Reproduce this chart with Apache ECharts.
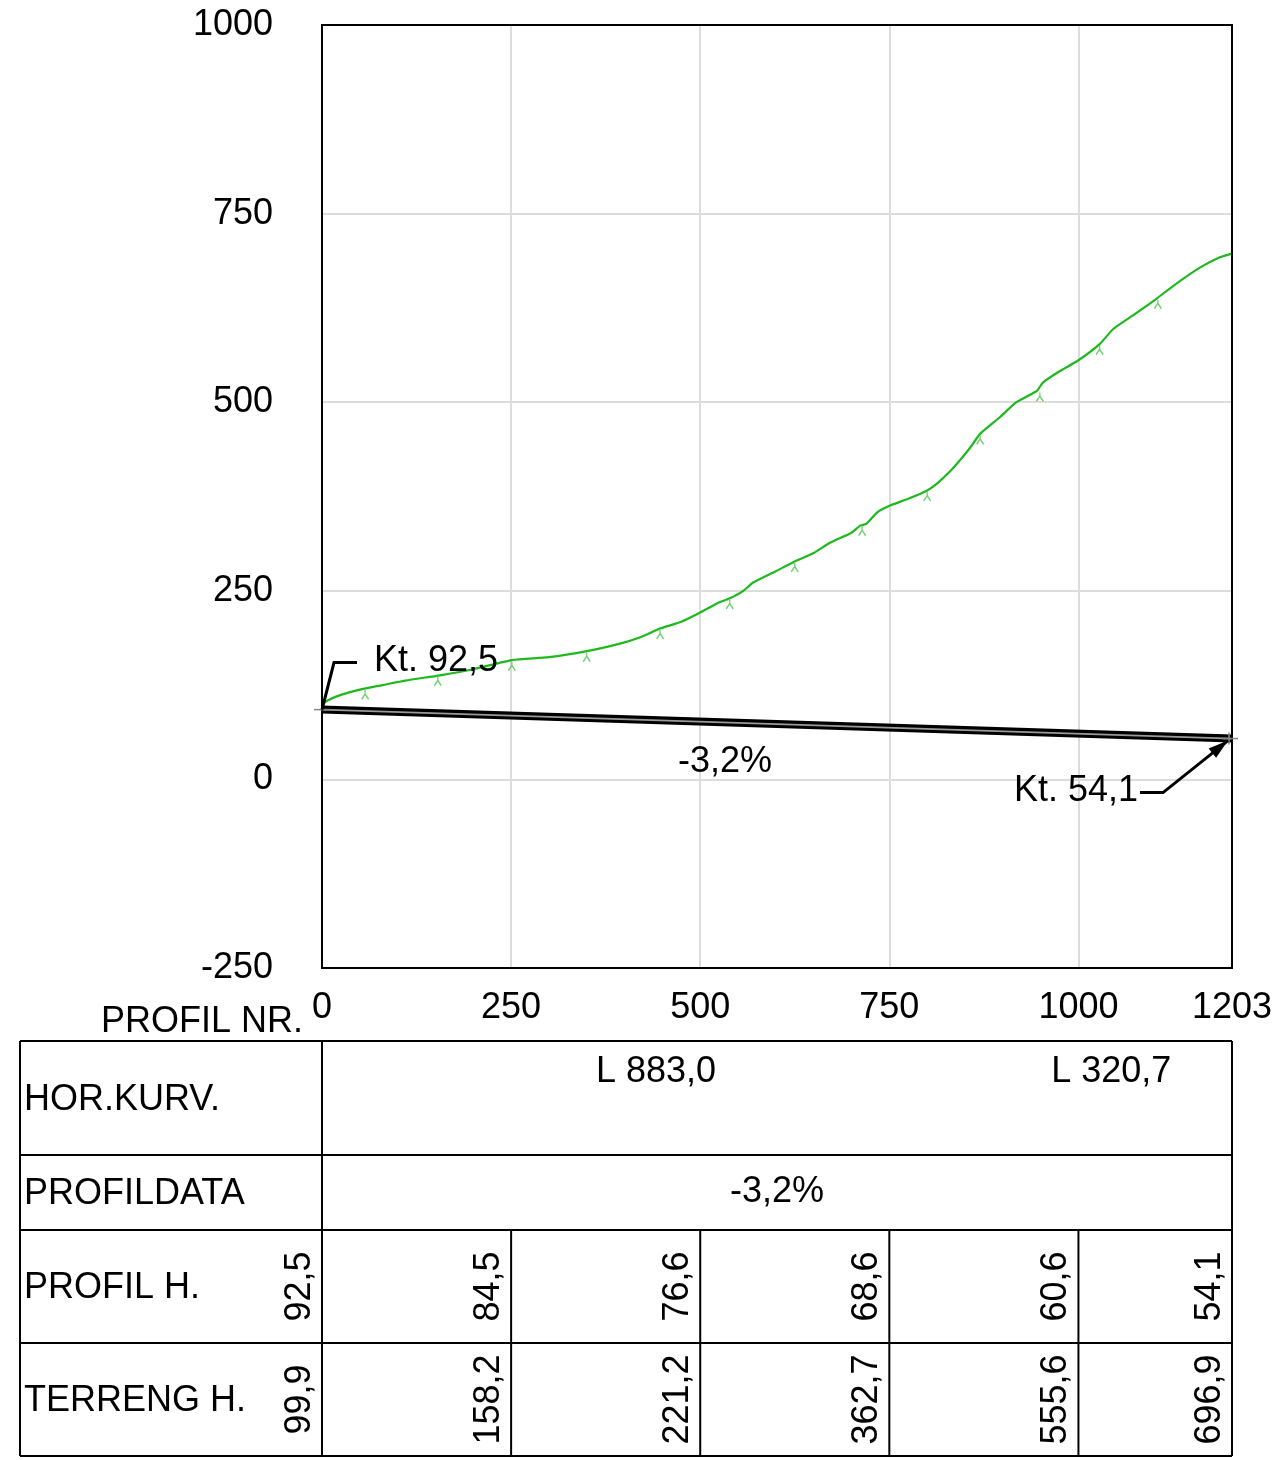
<!DOCTYPE html>
<html><head><meta charset="utf-8">
<script src="https://cdn.jsdelivr.net/npm/echarts@6/dist/echarts.min.js"></script>
<style>html,body{margin:0;padding:0;background:#fff}#c{width:1274px;height:1460px}</style>
</head><body><div id="c"></div>
<script>
// ---- data ----
const terrainX = [0,10,25,50,80,110,156,200,251,300,350,394,420,447,475,500,526,539,557,570,600,623,650,672,700,711,720,734,751,775,800,813,830,845,857,870,896,918,945,953,975,1000,1028,1046,1072,1103,1125,1160,1187,1203];
const terrainY = [99.9,106,112,119,125,131,138,146,158.2,162,170,180,188,200,209,221.2,235,240,250,261,276,288,300,314,327,336,339,354,363,372,383,392,408,425,440,458,480,500,515,526,541,555.6,577,597,615,637,654,678,692,696.9];
const markX = [57,153,251,350,447,539,625,714,800,870,949,1028,1105];
const markY = [120,138,158,170,200,240,289,337,383,458,515,577,638];
const profileX = [0,1203];
const profileY = [92.5,54.1];
const stations = [0,250,500,750,1000,1203];
const profilH = [92.5,84.5,76.6,68.6,60.6,54.1];
const terrengH = [99.9,158.2,221.2,362.7,555.6,696.9];
const curveStart = [0,883.0];
const curveLength = [883.0,320.7];
const gradePct = -3.2;
const rowLabels = ['HOR.KURV.','PROFILDATA','PROFIL H.','TERRENG H.'];

const fmt = v => v.toFixed(1).replace('.', ',');
const FONT = 'Liberation Sans, Arial, sans-serif';
const FS = 36;

const chart = echarts.init(document.getElementById('c'), null, {renderer:'canvas'});
chart.setOption({
  animation:false,
  backgroundColor:'#fff',
  grid:{left:322, top:25, width:910, height:943, show:false, containLabel:false, outerBoundsMode:'none'},
  xAxis:{type:'value', min:0, max:1203, interval:250,
    axisLine:{show:false}, axisTick:{show:false},
    splitLine:{show:true, lineStyle:{color:'#dcdcdc', width:2}},
    axisLabel:{color:'#000', fontSize:FS, fontFamily:FONT, margin:22, showMinLabel:true, showMaxLabel:true, formatter:v=>String(v)}},
  yAxis:{type:'value', min:-250, max:1000, interval:250,
    axisLine:{show:false}, axisTick:{show:false},
    splitLine:{show:true, lineStyle:{color:'#dcdcdc', width:2}},
    axisLabel:{color:'#000', fontSize:FS, fontFamily:FONT, margin:49, formatter:v=>String(v)}},
  series:[
    {type:'line', data:profileX.map((x,i)=>[x,profileY[i]]), showSymbol:false, lineStyle:{color:'#000', width:8, cap:'butt'}, z:3},
    {type:'line', data:profileX.map((x,i)=>[x,profileY[i]]), showSymbol:false, lineStyle:{color:'#9a9a9a', width:1.6}, z:4},
    {type:'line', data:terrainX.map((x,i)=>[x,terrainY[i]]), showSymbol:false, smooth:0.2, lineStyle:{color:'#1db91d', width:2.2}, z:5},
    {type:'scatter', data:markX.map((x,i)=>[x,markY[i]]),
      symbol:'path://M5,0 L5,4 L1,10 M5,4 L9,10', symbolSize:[7,9], symbolOffset:[0,6],
      itemStyle:{color:'rgba(0,0,0,0)', borderColor:'#4cc64c', borderWidth:1.5}, z:6}
  ]
});

// ---- annotations & table ----
const px = v => chart.convertToPixel({xAxisIndex:0}, v);
const py = v => chart.convertToPixel({yAxisIndex:0}, v);
const pt = (x,y) => chart.convertToPixel({gridIndex:0}, [x,y]);
const g = [];
const line = (x1,y1,x2,y2,stroke,w) => g.push({type:'line', shape:{x1,y1,x2,y2}, style:{stroke:stroke||'#000', lineWidth:w||2}, z:100});
const text = (t,x,y,align,valign,extra) => g.push(Object.assign({type:'text', x, y, style:{text:t, fill:'#000', font:FS+'px '+FONT, textAlign:align, textVerticalAlign:valign}, z:100}, extra||{}));

// plot frame
const gx0 = px(0), gx1 = px(1203), gy0 = py(1000), gy1 = py(-250);
g.push({type:'rect', shape:{x:gx0, y:gy0, width:gx1-gx0, height:gy1-gy0}, style:{stroke:'#000', lineWidth:2, fill:null}, z:50});

const p0 = pt(profileX[0], profileY[0]);
const p1 = pt(profileX[1], profileY[1]);
// start/end ticks
line(p0[0]-8,p0[1],p0[0]+8,p0[1],'#888',1.5);
line(p1[0]-10,p1[1],p1[0]+6,p1[1],'#888',1.5);
line(p1[0]-3,p1[1]-6,p1[0]-3,p1[1]+6,'#888',1.5);
// Kt start leader
g.push({type:'polyline', shape:{points:[[p0[0],p0[1]],[p0[0]+12,p0[1]-47],[p0[0]+35,p0[1]-47]]}, style:{stroke:'#000', lineWidth:3, fill:null}, z:100});
text('Kt. '+fmt(profileY[0]), p0[0]+52, p0[1]-49, 'left', 'middle');
// Kt end leader with arrow
const tip = [p1[0]-4, p1[1]+2];
const elbow = [p1[0]-69, p1[1]+54];
g.push({type:'polyline', shape:{points:[[p1[0]-92,p1[1]+54],elbow,tip]}, style:{stroke:'#000', lineWidth:3, fill:null}, z:100});
(function(){
  const dx = tip[0]-elbow[0], dy = tip[1]-elbow[1], L = Math.hypot(dx,dy);
  const ux = dx/L, uy = dy/L, al = 20, aw = 6;
  const bx = tip[0]-ux*al, by = tip[1]-uy*al;
  g.push({type:'polygon', shape:{points:[tip,[bx-uy*aw,by+ux*aw],[bx+uy*aw,by-ux*aw]]}, style:{fill:'#000'}, z:100});
})();
text('Kt. '+fmt(profileY[1]), p1[0]-94, p1[1]+52, 'right', 'middle');
// grade label
const midX = (profileX[0]+profileX[1])/2;
const pm = pt(midX, (profileY[0]+profileY[1])/2);
text(fmt(gradePct)+'%', pm[0]-52, pm[1]+38, 'center', 'middle');

// table
const L0 = 20, R0 = px(stations[stations.length-1]), C0 = px(0);
const rowsY = [1041,1155,1230,1343,1456];
rowsY.forEach(y => line(L0,y,R0,y));
line(L0,rowsY[0],L0,rowsY[4]);
line(R0,rowsY[0],R0,rowsY[4]);
line(C0,rowsY[0],C0,rowsY[4]);
stations.slice(1,-1).forEach(s => line(px(s),rowsY[2],px(s),rowsY[4]));
text('PROFIL NR.', C0-19, 1022, 'right', 'middle');
rowLabels.forEach((t,i) => text(t, L0+4, (rowsY[i]+rowsY[i+1])/2+2, 'left', 'middle'));
curveStart.forEach((s,i) => text('L '+fmt(curveLength[i]), px(s+curveLength[i]/2), rowsY[0]+31, 'center', 'middle'));
text(fmt(gradePct)+'%', px(midX), (rowsY[1]+rowsY[2])/2, 'center', 'middle');
const rot = (vals, r) => vals.forEach((v,i) => {
  const colRight = i===0 ? C0 : px(stations[i]);
  text(fmt(v), colRight-4, (rowsY[r]+rowsY[r+1])/2, 'center', 'bottom', {rotation:Math.PI/2});
});
rot(profilH, 2);
rot(terrengH, 3);

chart.setOption({graphic:{elements:g}});
</script></body></html>
